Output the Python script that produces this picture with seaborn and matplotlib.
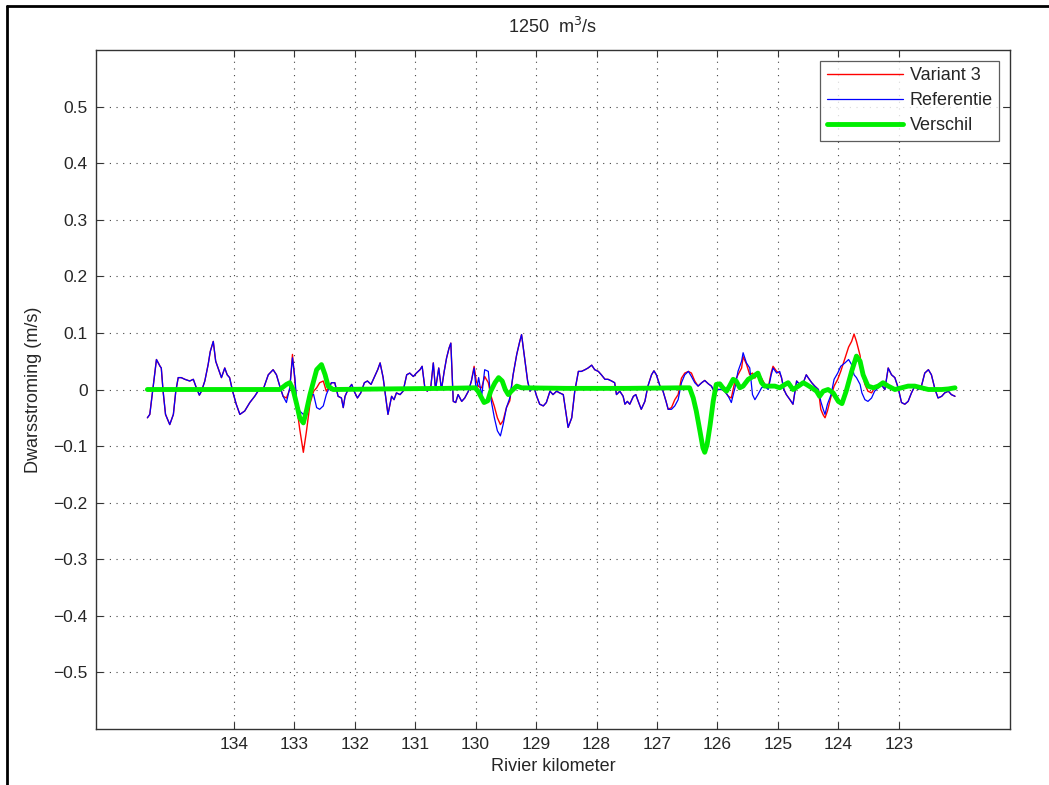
import numpy as np
import pandas as pd
import matplotlib
matplotlib.use("Agg")
import matplotlib.pyplot as plt
from matplotlib.lines import Line2D
from matplotlib.ticker import FuncFormatter
import seaborn as sns

# River kilometre positions of the cross-current profile
km = [
    135.43, 135.39, 135.33, 135.28, 135.22, 135.20, 135.17, 135.13, 135.06, 135.00,
    134.96, 134.92, 134.87, 134.81, 134.73, 134.67, 134.62, 134.57, 134.535, 134.48,
    134.425, 134.39, 134.34, 134.30, 134.26, 134.205, 134.15, 134.11, 134.07, 134.02,
    133.96, 133.90, 133.82, 133.735, 133.655, 133.60, 133.515, 133.43, 133.35, 133.295,
    133.24, 133.185, 133.13, 133.075, 133.03, 132.99, 132.96, 132.91, 132.85, 132.80,
    132.74, 132.68, 132.63, 132.58, 132.52, 132.47, 132.385, 132.33, 132.275, 132.22,
    132.19, 132.16, 132.11, 132.05, 132.01, 131.955, 131.90, 131.84, 131.79, 131.73,
    131.68, 131.62, 131.58, 131.53, 131.49, 131.45, 131.39, 131.35, 131.31, 131.25,
    131.20, 131.14, 131.09, 131.03, 130.98, 130.92, 130.885, 130.84, 130.80, 130.74,
    130.70, 130.664, 130.61, 130.565, 130.52, 130.48, 130.44, 130.41, 130.37, 130.33,
    130.29, 130.23, 130.18, 130.12, 130.07, 130.025, 129.99, 129.95, 129.90, 129.85,
    129.79, 129.75, 129.69, 129.64, 129.59, 129.545, 129.49, 129.435, 129.38, 129.32,
    129.27, 129.24, 129.19, 129.14, 129.10, 129.04, 128.99, 128.94, 128.88, 128.83,
    128.77, 128.72, 128.66, 128.61, 128.55, 128.51, 128.47, 128.41, 128.36, 128.30,
    128.25, 128.19, 128.14, 128.08, 128.03, 127.97, 127.92, 127.86, 127.81, 127.75,
    127.70, 127.67, 127.615, 127.56, 127.53, 127.49, 127.45, 127.39, 127.35, 127.31,
    127.26, 127.20, 127.15, 127.09, 127.05, 127.01, 126.95, 126.90, 126.85, 126.815,
    126.76, 126.705, 126.65, 126.595, 126.54, 126.48, 126.43, 126.375, 126.32, 126.26,
    126.21, 126.15, 126.10, 126.04, 125.99, 125.93, 125.88, 125.82, 125.77, 125.71,
    125.66, 125.60, 125.575, 125.52, 125.465, 125.42,
    125.38, 125.33, 125.27, 125.22, 125.16, 125.11, 125.08, 125.02, 124.97, 124.94,
    124.90, 124.86, 124.80, 124.75, 124.69, 124.64, 124.58, 124.53, 124.50, 124.44,
    124.39, 124.33, 124.29, 124.25, 124.22, 124.18, 124.12, 124.07, 124.01, 123.96,
    123.89, 123.83, 123.78, 123.74, 123.70, 123.64, 123.61, 123.56, 123.51, 123.45,
    123.40, 123.34, 123.29, 123.23, 123.175, 123.12, 123.065, 123.01, 122.955, 122.90,
    122.845, 122.79, 122.735, 122.68, 122.625, 122.57, 122.51, 122.46, 122.40, 122.35,
    122.29, 122.24, 122.18, 122.13, 122.07,
]

# Reference situation (m/s)
referentie = [
    -0.050, -0.044, 0.009, 0.053, 0.041, 0.038, -0.003, -0.044, -0.062, -0.044,
    -0.003, 0.021, 0.021, 0.018, 0.015, 0.018, 0.003, -0.010, -0.003, 0.015,
    0.044, 0.067, 0.085, 0.050, 0.038, 0.021, 0.038, 0.026, 0.021, -0.003,
    -0.026, -0.044, -0.038, -0.023, -0.012, -0.003, 0.000, 0.026, 0.035, 0.026,
    0.006, -0.012, -0.023, 0.003, 0.056, 0.021, -0.021, -0.038, -0.044, -0.038,
    -0.009, -0.009, -0.032, -0.035, -0.029, -0.009, 0.012, 0.012, -0.012, -0.015,
    -0.032, -0.012, 0.000, 0.009, -0.003, -0.015, -0.006, 0.012, 0.015, 0.009,
    0.021, 0.035, 0.047, 0.021, -0.012, -0.044, -0.012, -0.018, -0.006, -0.009,
    -0.003, 0.026, 0.029, 0.023, 0.029, 0.035, 0.041, 0.003, -0.003, 0.006,
    0.047, 0.000, 0.038, 0.000, 0.032, 0.056, 0.073, 0.082, -0.021, -0.023,
    -0.009, -0.021, -0.015, -0.003, 0.015, 0.038, -0.003, 0.021, -0.012, 0.035,
    0.032, -0.015, -0.050, -0.073, -0.082, -0.062, -0.032, -0.015, 0.026, 0.062,
    0.085, 0.097, 0.056, 0.015, -0.003, 0.006, -0.012, -0.026, -0.029, -0.023,
    -0.003, -0.009, -0.003, -0.006, -0.009, -0.038, -0.067, -0.050, -0.003, 0.032,
    0.032, 0.035, 0.038, 0.043, 0.035, 0.032, 0.026, 0.018, 0.018, 0.015,
    0.012, -0.009, -0.003, -0.012, -0.026, -0.021, -0.026, -0.012, -0.009, -0.021,
    -0.035, -0.021, 0.006, 0.026, 0.033, 0.026, 0.006, -0.003, -0.021, -0.035,
    -0.035, -0.029, -0.018, 0.012, 0.026, 0.032, 0.023, 0.012, 0.006, 0.012,
    0.016, 0.010, 0.006, -0.006, 0.000, 0.000, -0.003, -0.012, -0.023, 0.003,
    0.032, 0.050, 0.065, 0.047, 0.038, -0.009,
    -0.018, -0.009, 0.003, 0.006, 0.000, 0.026, 0.038, 0.029, 0.032, 0.021,
    0.000, -0.009, -0.018, -0.026, 0.015, 0.009, 0.012, 0.026, 0.021, 0.012,
    0.006, 0.000, -0.021, -0.035, -0.044, -0.026, -0.009, 0.018, 0.029, 0.041,
    0.047, 0.053, 0.044, 0.026, 0.021, 0.009, -0.006, -0.018, -0.021, -0.015,
    -0.003, 0.003, 0.009, 0.000, 0.038, 0.026, 0.021, 0.003, -0.023, -0.026,
    -0.021, -0.006, 0.006, 0.000, 0.006, 0.029, 0.035, 0.026, 0.000, -0.015,
    -0.012, -0.006, -0.003, -0.009, -0.012,
]

# Variant 3 (m/s), same stations as the reference
variant3 = [
    -0.050, -0.044, 0.009, 0.053, 0.041, 0.038, -0.003, -0.044, -0.062, -0.044,
    -0.003, 0.021, 0.021, 0.018, 0.015, 0.018, 0.003, -0.010, -0.003, 0.015,
    0.044, 0.067, 0.085, 0.050, 0.038, 0.021, 0.038, 0.026, 0.021, -0.003,
    -0.026, -0.044, -0.038, -0.023, -0.012, -0.003, 0.000, 0.026, 0.035, 0.026,
    0.006, -0.012, -0.015, 0.000, 0.062, 0.015, -0.030, -0.070, -0.111, -0.075,
    -0.025, -0.003, 0.003, 0.012, 0.015, -0.003, 0.012, 0.012, -0.012, -0.015,
    -0.032, -0.012, 0.000, 0.009, -0.003, -0.015, -0.006, 0.012, 0.015, 0.009,
    0.021, 0.035, 0.047, 0.021, -0.012, -0.044, -0.012, -0.018, -0.006, -0.009,
    -0.003, 0.026, 0.029, 0.023, 0.029, 0.035, 0.041, 0.003, -0.003, 0.006,
    0.047, 0.000, 0.038, 0.000, 0.032, 0.056, 0.073, 0.082, -0.021, -0.023,
    -0.009, -0.021, -0.015, -0.003, 0.015, 0.041, 0.015, 0.005, 0.003, 0.023,
    0.012, -0.010, -0.030, -0.050, -0.062, -0.055, -0.032, -0.020, 0.026, 0.062,
    0.085, 0.097, 0.056, 0.015, -0.003, 0.006, -0.012, -0.026, -0.029, -0.023,
    -0.003, -0.009, -0.003, -0.006, -0.009, -0.038, -0.067, -0.050, -0.003, 0.032,
    0.032, 0.035, 0.038, 0.043, 0.035, 0.032, 0.026, 0.018, 0.018, 0.015,
    0.012, -0.009, -0.003, -0.012, -0.026, -0.021, -0.026, -0.012, -0.009, -0.021,
    -0.035, -0.021, 0.006, 0.026, 0.033, 0.026, 0.006, -0.003, -0.021, -0.035,
    -0.032, -0.018, -0.009, 0.020, 0.029, 0.032, 0.029, 0.015, 0.006, 0.012,
    0.016, 0.010, 0.006, -0.006, 0.000, 0.000, -0.003, -0.012, -0.015, 0.015,
    0.026, 0.038, 0.058, 0.045, 0.026, 0.029,
    0.020, 0.030, 0.020, 0.010, 0.003, 0.030, 0.041, 0.032, 0.029, 0.021,
    0.000, -0.009, -0.018, -0.026, 0.015, 0.009, 0.012, 0.026, 0.021, 0.012,
    0.006, 0.000, -0.035, -0.045, -0.050, -0.038, -0.012, 0.006, 0.018, 0.032,
    0.055, 0.075, 0.085, 0.098, 0.085, 0.060, 0.030, 0.009, -0.003, -0.006,
    0.003, 0.003, 0.009, 0.000, 0.038, 0.026, 0.021, 0.003, -0.023, -0.026,
    -0.021, -0.006, 0.006, 0.000, 0.006, 0.029, 0.035, 0.026, 0.000, -0.015,
    -0.012, -0.006, -0.003, -0.009, -0.012,
]

# Smoothed difference between the variant and the reference (m/s)
verschil_km = [
    135.43, 134.5, 133.6, 133.24, 133.13, 133.075, 133.02, 132.96, 132.91, 132.85,
    132.80, 132.74, 132.68, 132.63, 132.55, 132.49, 132.44, 132.36, 131.5, 130.5,
    130.01, 129.96, 129.90, 129.86, 129.80, 129.75, 129.68, 129.62, 129.56, 129.51,
    129.46, 129.41, 129.32, 129.24, 128.5, 127.5, 126.57, 126.46, 126.40, 126.35,
    126.29, 126.24, 126.21, 126.17, 126.12, 126.07, 126.02, 125.96, 125.91, 125.85,
    125.80, 125.74, 125.69, 125.63, 125.575, 125.49, 125.41, 125.33, 125.27, 125.22,
    125.13, 125.05, 124.97, 124.88, 124.83, 124.75, 124.66, 124.58, 124.53, 124.44,
    124.36, 124.31, 124.25, 124.17, 124.085, 124.00, 123.94, 123.87, 123.78, 123.70,
    123.64, 123.59, 123.51, 123.42, 123.34, 123.26, 123.175, 123.065, 122.955, 122.845,
    122.735, 122.625, 122.51, 122.29, 122.18, 122.07,
]
verschil = [
    0.000, 0.000, 0.000, 0.000, 0.009, 0.012, 0.000, -0.026, -0.050, -0.059,
    -0.038, -0.009, 0.015, 0.035, 0.044, 0.026, 0.006, 0.000, 0.001, 0.002,
    0.003, -0.003, -0.015, -0.023, -0.020, -0.003, 0.012, 0.021, 0.015, 0.000,
    -0.009, -0.003, 0.006, 0.003, 0.002, 0.002, 0.003, 0.003, -0.015, -0.038,
    -0.073, -0.103, -0.111, -0.097, -0.062, -0.021, 0.009, 0.010, 0.003, -0.003,
    0.006, 0.018, 0.015, 0.003, 0.006, 0.018, 0.023, 0.029, 0.012, 0.006,
    0.006, 0.006, 0.003, 0.009, 0.012, 0.000, 0.006, 0.012, 0.009, 0.003,
    -0.003, -0.012, -0.003, 0.000, -0.006, -0.021, -0.025, -0.003, 0.032, 0.059,
    0.050, 0.026, 0.006, 0.003, 0.006, 0.012, 0.006, 0.000, 0.003, 0.006,
    0.006, 0.003, 0.000, 0.000, 0.001, 0.003,
]

xticks = [134, 133, 132, 131, 130, 129, 128, 127, 126, 125, 124, 123]
yticks = [-0.5, -0.4, -0.3, -0.2, -0.1, 0.0, 0.1, 0.2, 0.3, 0.4, 0.5]

profile = pd.DataFrame({"km": km, "Variant 3": variant3, "Referentie": referentie})
diff = pd.DataFrame({"km": verschil_km, "Verschil": verschil})

sns.set_style("white")
plt.rcParams["font.family"] = ["Liberation Sans", "DejaVu Sans"]

fig = plt.figure(figsize=(10.49, 7.85), dpi=100)
ax = fig.add_axes([96 / 1049, 56 / 785, (1010 - 96) / 1049, (729 - 50) / 785])

sns.lineplot(data=profile, x="km", y="Variant 3", ax=ax, color="#ff0000",
             linewidth=1.0, estimator=None, sort=False, label="Variant 3")
sns.lineplot(data=profile, x="km", y="Referentie", ax=ax, color="#0000ff",
             linewidth=0.9, estimator=None, sort=False, label="Referentie")
sns.lineplot(data=diff, x="km", y="Verschil", ax=ax, color="#00ee00",
             linewidth=3.5, estimator=None, sort=False, label="Verschil")

ax.set_xlim(136.28, 121.16)
ax.set_ylim(-0.6, 0.6)
ax.set_xticks(xticks)
ax.set_yticks(yticks)
ax.xaxis.set_major_formatter(FuncFormatter(lambda v, p: f"{v:g}"))
ax.yaxis.set_major_formatter(FuncFormatter(lambda v, p: f"{v:g}".replace("-", "\u2212")))
ax.tick_params(axis="both", direction="in", length=5, width=0.8, color="#333333",
               labelsize=12.5, top=True, right=True, bottom=True, left=True, pad=6)
ax.grid(True, color="#444444", linestyle=(0, (1, 5)), linewidth=0.8)
for s in ax.spines.values():
    s.set_color("#333333")
    s.set_linewidth(1.0)

ax.set_xlabel("Rivier kilometer", fontsize=13, labelpad=4)
ax.set_ylabel("Dwarsstroming (m/s)", fontsize=13, labelpad=8)
ax.set_title("1250  m$^3$/s", fontsize=13, pad=12)

leg = ax.legend(loc="upper right", fontsize=13, frameon=True, fancybox=False,
                edgecolor="#333333", handlelength=4.2, handletextpad=0.4,
                borderaxespad=0.6, labelspacing=0.45, borderpad=0.35)
leg.get_frame().set_linewidth(0.9)

# Page frame around the figure
fig.add_artist(Line2D([7 / 1049, 7 / 1049], [0, 1 - 6 / 785], transform=fig.transFigure,
                      color="black", linewidth=2.0))
fig.add_artist(Line2D([7 / 1049, 1], [1 - 6 / 785, 1 - 6 / 785], transform=fig.transFigure,
                      color="black", linewidth=2.0))

fig.savefig("out.png", dpi=100)
